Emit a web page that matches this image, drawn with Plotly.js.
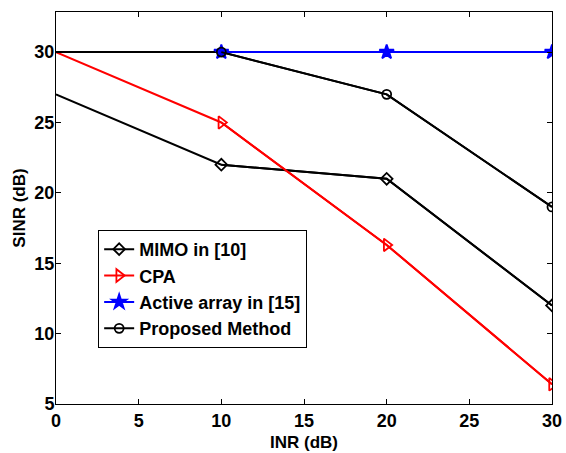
<!DOCTYPE html>
<html><head><meta charset="utf-8">
<script src="https://cdn.plot.ly/plotly-3.0.1.min.js"></script>
<style>html,body{margin:0;padding:0;background:#fff}</style>
</head><body><div id="chart" style="width:566px;height:453px"></div>
<script>
const inr = [0, 10, 20, 30];
const mimo = [27, 22, 21, 12];
const cpa = [30, 25, 16.3, 6.4];
const active = [30, 30, 30, 30];
const proposed = [30, 30, 27, 19];
const names = ['MIMO in [10]', 'CPA', 'Active array in [15]', 'Proposed Method'];
const xTicks = [0, 5, 10, 15, 20, 25, 30];
const yTicks = [5, 10, 15, 20, 25, 30];

const series = [
  {y: mimo, color: '#000000', symbol: 'diamond-open', size: 9},
  {y: cpa, color: '#ff0000', symbol: 'triangle-right-open', size: 11},
  {y: active, color: '#0000ff', symbol: 'star', size: 11},
  {y: proposed, color: '#000000', symbol: 'circle-open', size: 9}
];
const traces = [];
series.forEach((s, i) => {
  traces.push({x: inr, y: s.y, mode: 'lines', showlegend: false, hoverinfo: 'skip',
    legendgroup: 'g' + i, line: {color: s.color, width: 2}});
});
series.forEach((s, i) => {
  traces.push({x: inr.slice(1), y: s.y.slice(1), mode: 'lines+markers', name: '<b>' + names[i] + '</b>',
    legendgroup: 'g' + i,
    line: {color: s.color, width: 2},
    marker: {symbol: s.symbol, size: s.size, color: s.color, line: {color: s.color, width: 1.8}}});
});
const fam = 'Liberation Sans, Arial, sans-serif';
const layout = {
  width: 566, height: 453,
  margin: {l: 56, r: 14, t: 12, b: 49},
  paper_bgcolor: '#fff', plot_bgcolor: '#fff',
  font: {family: fam, size: 17, color: '#000'},
  xaxis: {range: [0, 30], tickvals: xTicks, ticktext: xTicks.map(v => '<b>' + v + '</b>'),
    ticks: 'inside', ticklen: 5, tickcolor: '#000',
    showline: true, linecolor: '#000', linewidth: 1, mirror: 'allticks', showgrid: false, zeroline: false,
    tickfont: {family: fam, size: 18, color: '#000'},
    title: {text: '<b>INR (dB)</b>', font: {family: fam, size: 17, color: '#000'}, standoff: 6}},
  yaxis: {range: [5, 32.85], tickvals: yTicks, ticktext: yTicks.map(v => '<b>' + v + '</b>'),
    ticks: 'inside', ticklen: 5, tickcolor: '#000', ticklabelstandoff: -3,
    showline: true, linecolor: '#000', linewidth: 1, mirror: 'allticks', showgrid: false, zeroline: false,
    tickfont: {family: fam, size: 18, color: '#000'},
    title: {text: '<b>SINR (dB)</b>', font: {family: fam, size: 17, color: '#000'}, standoff: 4}},
  legend: {x: 0.085, y: 0.444, xanchor: 'left', yanchor: 'top', bgcolor: '#fff',
    bordercolor: '#000', borderwidth: 1, tracegroupgap: 0,
    font: {family: fam, size: 18, color: '#000'}},
  showlegend: true
};
Plotly.newPlot('chart', traces, layout, {displayModeBar: false, staticPlot: true});
</script></body></html>
